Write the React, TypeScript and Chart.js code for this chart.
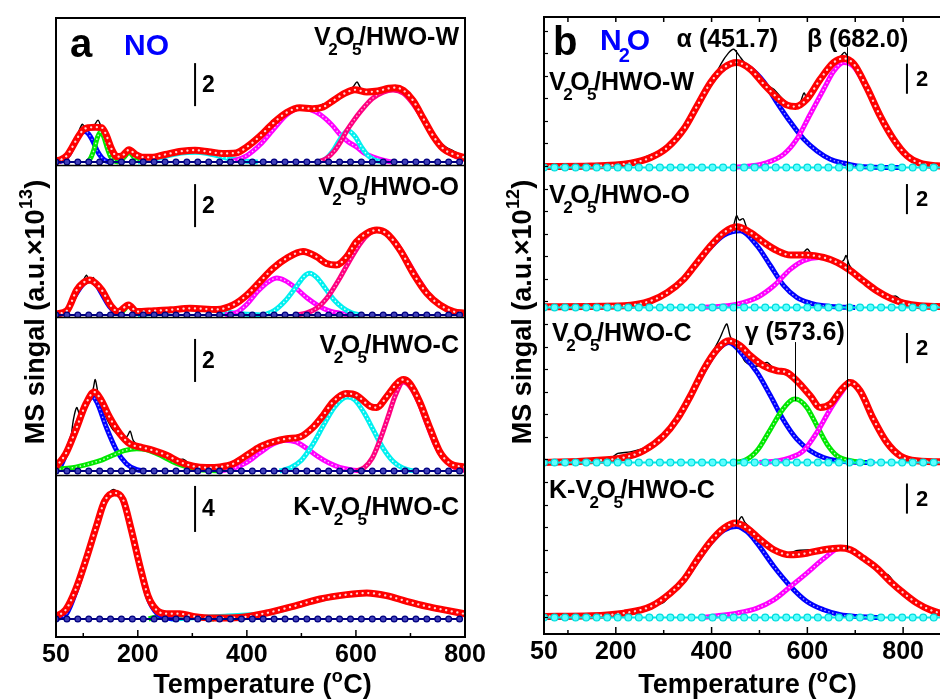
import React, { useEffect, useRef } from 'react';
import { Chart, registerables } from 'chart.js';
Chart.register(...registerables);

type P = [number, number];
const FONT = "Arial, 'Liberation Sans', Helvetica, sans-serif";

// ---------------- Panel a : NO (a.u. x 1e13) ----------------
const NO_W_RAW: P[] = [[50,0.08],[60,0.1],[70,0.3],[80,0.75],[90,1.3],[98,1.75],[104,1.6],[112,1.5],[120,1.7],[127,1.95],[132,1.7],[140,1.3],[148,0.8],[156,0.5],[164,0.35],[172,0.3],[184,0.55],[196,0.3],[210,0.2],[230,0.25],[260,0.4],[290,0.5],[320,0.5],[350,0.4],[380,0.4],[400,0.7],[425,1.2],[450,1.85],[475,2.35],[500,2.5],[525,2.5],[540,2.7],[548,2.6],[560,2.85],[580,3.2],[595,3.5],[602,3.72],[610,3.4],[625,3.3],[645,3.35],[662,3.52],[675,3.45],[690,3.3],[705,2.85],[725,2.0],[745,1.15],[765,0.7],[780,0.5],[795,0.3],[800,0.25]];
const NO_W_FIT: P[] = [[50,0.05],[60,0.12],[70,0.3],[80,0.7],[90,1.15],[100,1.5],[110,1.6],[122,1.62],[134,1.6],[143,1.2],[152,0.6],[162,0.25],[172,0.3],[184,0.57],[196,0.35],[210,0.22],[225,0.22],[250,0.35],[280,0.5],[305,0.55],[330,0.48],[355,0.4],[380,0.42],[400,0.7],[424,1.2],[448,1.8],[473,2.3],[497,2.52],[520,2.48],[540,2.56],[558,2.85],[580,3.2],[598,3.36],[620,3.26],[640,3.3],[660,3.43],[672,3.46],[687,3.33],[705,2.85],[724,2.0],[742,1.2],[760,0.62],[779,0.36],[800,0.2]];
const NO_W_BLUE: P[] = [[55,0],[65,0.1],[75,0.4],[85,0.95],[95,1.35],[103,1.42],[110,1.3],[118,0.95],[126,0.5],[134,0.2],[142,0.05],[150,0]];
const NO_W_GREEN: P[] = [[108,0],[114,0.2],[120,0.6],[126,1.15],[132,1.4],[138,1.15],[144,0.65],[150,0.25],[157,0.05],[165,0]];
const NO_W_SMALL: P[] = [[168,0],[176,0.25],[184,0.45],[192,0.25],[200,0]];
const NO_W_BROAD: P[] = [[200,0],[240,0.2],[280,0.42],[305,0.45],[330,0.38],[370,0.15],[400,0.03],[420,0]];
const NO_W_MAGENTA: P[] = [[370,0],[400,0.3],[424,0.8],[448,1.5],[473,2.2],[497,2.5],[515,2.45],[535,2.2],[555,1.75],[570,1.3],[585,0.95],[601,0.7],[616,0.4],[632,0.23],[650,0.08],[665,0]];
const NO_W_CYAN: P[] = [[530,0],[545,0.15],[560,0.6],[572,1.1],[585,1.47],[598,1.2],[610,0.7],[622,0.3],[635,0.08],[650,0]];
const NO_W_PINK: P[] = [[530,0],[545,0.15],[560,0.5],[572,0.95],[583,1.45],[595,1.9],[610,2.4],[630,2.95],[650,3.25],[668,3.35],[687,3.2],[705,2.7],[724,1.95],[742,1.2],[760,0.62],[779,0.3],[800,0.12]];

const NO_O_RAW: P[] = [[50,0.05],[70,0.15],[88,1.1],[100,1.6],[106,1.85],[112,1.5],[118,1.75],[124,1.5],[134,1.1],[152,0.4],[164,0.15],[183,0.5],[198,0.15],[230,0.2],[260,0.25],[296,0.32],[345,0.3],[375,0.45],[400,0.95],[424,1.6],[448,2.2],[473,2.6],[503,2.95],[528,2.75],[546,2.45],[560,2.3],[575,2.45],[590,2.95],[610,3.6],[625,4.0],[640,4.0],[656,3.82],[681,3.0],[705,1.95],[730,1.0],[754,0.5],[779,0.2],[800,0.1]];
const NO_O_FIT: P[] = [[50,0.05],[70,0.2],[88,1.16],[100,1.5],[112,1.63],[124,1.45],[134,1.16],[152,0.39],[164,0.16],[183,0.47],[198,0.16],[230,0.2],[260,0.24],[296,0.31],[345,0.26],[375,0.47],[400,0.93],[424,1.55],[448,2.17],[473,2.64],[503,2.95],[528,2.71],[546,2.4],[564,2.33],[583,2.71],[601,3.41],[620,3.8],[638,3.95],[656,3.8],[681,3.02],[705,1.94],[730,1.01],[754,0.47],[779,0.16],[800,0.08]];
const NO_O_BLUE: P[] = [[55,0],[70,0.2],[85,0.9],[100,1.45],[112,1.6],[124,1.4],[136,0.9],[148,0.4],[160,0.1],[175,0]];
const NO_O_SMALL: P[] = [[165,0],[175,0.25],[183,0.45],[192,0.25],[200,0]];
const NO_O_BROAD: P[] = [[200,0],[250,0.15],[290,0.3],[320,0.28],[360,0.15],[400,0.04],[430,0]];
const NO_O_MAGENTA: P[] = [[360,0],[380,0.1],[400,0.5],[420,1.1],[440,1.55],[455,1.72],[470,1.6],[490,1.25],[510,0.8],[530,0.45],[550,0.2],[575,0.06],[600,0]];
const NO_O_CYAN: P[] = [[430,0],[450,0.2],[470,0.65],[490,1.3],[505,1.8],[515,1.94],[528,1.75],[545,1.2],[560,0.7],[575,0.35],[592,0.1],[610,0]];
const NO_O_PINK: P[] = [[490,0],[510,0.1],[530,0.35],[550,0.9],[570,1.7],[590,2.6],[610,3.4],[625,3.8],[638,3.95],[655,3.82],[675,3.3],[695,2.5],[715,1.65],[735,0.9],[755,0.45],[780,0.15],[800,0.06]];

const NO_C_RAW: P[] = [[50,0.2],[62,0.3],[75,1.2],[82,2.4],[88,2.95],[94,2.6],[100,2.8],[110,3.3],[118,3.8],[122,4.25],[128,3.5],[140,2.6],[155,1.9],[170,1.6],[180,1.6],[186,1.85],[192,1.4],[205,1.1],[225,0.9],[240,0.8],[255,0.75],[270,0.5],[283,0.55],[300,0.25],[330,0.15],[360,0.2],[380,0.35],[400,0.7],[425,1.1],[450,1.35],[475,1.5],[500,1.6],[522,2.05],[540,2.6],[560,3.25],[583,3.62],[601,3.5],[626,3.0],[640,2.95],[656,3.45],[675,4.05],[687,4.3],[700,4.05],[717,3.2],[736,1.95],[754,0.9],[773,0.4],[790,0.3],[800,0.28]];
const NO_C_FIT: P[] = [[50,0.19],[68,0.81],[86,1.89],[105,3.13],[120,3.67],[133,3.29],[148,2.51],[167,1.74],[185,1.27],[204,1.12],[228,0.96],[253,0.73],[277,0.42],[302,0.22],[326,0.16],[351,0.19],[375,0.34],[400,0.73],[424,1.12],[448,1.35],[473,1.5],[497,1.58],[522,2.05],[540,2.59],[558,3.21],[583,3.6],[601,3.52],[626,3.01],[638,2.95],[656,3.44],[675,4.06],[687,4.25],[699,4.06],[717,3.21],[736,1.97],[754,0.88],[773,0.34],[797,0.19]];
const NO_C_BLUE: P[] = [[50,0],[60,0.3],[80,1.6],[99,2.8],[110,3.3],[117,3.44],[125,3.2],[142,2.05],[161,0.96],[179,0.34],[198,0.06],[215,0]];
const NO_C_GREEN: P[] = [[50,0.08],[80,0.15],[112,0.34],[135,0.52],[154,0.73],[175,0.95],[198,1.04],[215,1.0],[234,0.81],[250,0.62],[265,0.42],[280,0.27],[296,0.14],[326,0.03],[350,0]];
const NO_C_MAGENTA: P[] = [[350,0],[375,0.12],[400,0.4],[424,0.85],[448,1.25],[470,1.43],[490,1.35],[510,1.05],[530,0.68],[550,0.38],[570,0.17],[590,0.06],[610,0]];
const NO_C_CYAN: P[] = [[460,0],[480,0.15],[500,0.5],[520,1.2],[540,2.1],[560,2.95],[575,3.35],[585,3.44],[598,3.3],[615,2.7],[632,1.9],[650,1.05],[668,0.45],[685,0.15],[700,0.03],[715,0]];
const NO_C_PINK: P[] = [[600,0],[615,0.15],[630,0.6],[645,1.5],[660,2.6],[672,3.5],[687,4.14],[700,3.9],[715,3.2],[730,2.2],[745,1.25],[760,0.6],[775,0.25],[790,0.08],[800,0.03]];

const NO_K_RAW: P[] = [[50,0.2],[68,0.7],[86,2.7],[105,5.3],[124,8.2],[139,10.3],[150,11.1],[157,11.25],[165,10.9],[173,10.4],[188,7.7],[204,4.6],[219,2.0],[235,0.8],[253,0.5],[277,0.45],[302,0.25],[338,0.1],[387,0.15],[436,0.5],[485,1.1],[534,1.75],[583,2.1],[620,2.25],[650,2.1],[665,1.85],[675,1.95],[693,1.55],[730,1.1],[748,0.95],[757,0.75],[767,0.8],[797,0.45]];
const NO_K_FIT: P[] = [[50,0.23],[68,0.81],[86,2.55],[105,5.16],[124,8.06],[139,10.23],[157,10.96],[173,10.38],[188,7.77],[204,4.58],[219,1.97],[235,0.75],[253,0.46],[277,0.46],[302,0.23],[338,0.09],[387,0.14],[436,0.52],[485,1.1],[534,1.74],[583,2.12],[620,2.26],[656,2.03],[693,1.54],[730,1.1],[767,0.75],[800,0.44]];
const NO_K_BLUE: P[] = [[50,0],[70,0.5],[86,2.3],[105,5.1],[124,8.1],[139,10.2],[155,11.0],[172,10.4],[188,7.7],[204,4.5],[219,1.8],[235,0.5],[255,0.08],[270,0]];
const NO_K_GREEN: P[] = [[220,0],[240,0.25],[260,0.42],[280,0.44],[300,0.25],[320,0.08],[340,0]];
const NO_K_CYAN: P[] = [[260,0],[300,0.1],[360,0.25],[436,0.5],[485,1.05],[534,1.7],[583,2.1],[620,2.24],[656,2.0],[693,1.5],[730,1.05],[767,0.7],[800,0.42]];

// ---------------- Panel b : N2O (a.u. x 1e12) ----------------
const N2O_W_RAW: P[] = [[50,0.05],[150,0.12],[231,0.35],[273,0.85],[308,1.3],[342,2.5],[370,4.0],[398,5.5],[420,6.9],[435,7.6],[446,7.86],[456,7.5],[470,6.9],[490,6.2],[510,5.6],[530,5.2],[550,4.5],[575,4.05],[585,4.3],[593,4.95],[600,4.6],[627,5.9],[655,6.95],[670,7.4],[678,7.65],[690,7.0],[700,6.8],[724,5.3],[752,3.45],[780,1.9],[808,0.85],[835,0.3],[870,0.12],[900,0.05]];
const N2O_W_FIT: P[] = [[50,0.07],[148,0.1],[231,0.29],[273,0.66],[308,1.33],[342,2.55],[370,4.1],[398,5.65],[426,6.64],[453,6.98],[481,6.53],[509,5.54],[537,4.65],[558,4.14],[575,4.05],[599,4.54],[627,5.87],[655,6.98],[676,7.24],[697,6.87],[724,5.32],[752,3.43],[780,1.88],[808,0.78],[835,0.29],[870,0.11],[900,0.05]];
const N2O_W_BLUE: P[] = [[50,0],[150,0.08],[231,0.29],[273,0.66],[308,1.33],[342,2.55],[370,4.1],[398,5.6],[426,6.6],[455,6.98],[481,6.6],[509,5.7],[537,4.3],[565,3.0],[592,1.9],[620,1.1],[648,0.55],[676,0.29],[703,0.1],[740,0.02],[800,0]];
const N2O_W_MAGENTA: P[] = [[440,0],[481,0.1],[516,0.33],[551,0.89],[578,1.88],[606,3.54],[634,5.2],[655,6.4],[676,6.98],[697,6.7],[724,5.25],[752,3.4],[780,1.85],[808,0.75],[835,0.27],[870,0.08],[900,0.02]];

const N2O_O_RAW: P[] = [[50,0.05],[217,0.12],[273,0.5],[308,0.9],[342,1.8],[370,2.95],[398,4.1],[426,4.95],[445,5.4],[452,6.1],[458,5.8],[466,5.9],[475,5.2],[495,4.7],[523,4.0],[545,3.7],[565,3.5],[590,3.6],[600,3.88],[610,3.5],[634,3.35],[660,3.0],[675,3.1],[681,3.45],[688,2.8],[717,1.75],[745,1.1],[773,0.7],[785,0.75],[801,0.35],[835,0.12],[900,0.05]];
const N2O_O_FIT: P[] = [[50,0.05],[217,0.11],[273,0.44],[308,1.0],[342,1.88],[370,2.99],[398,4.1],[426,4.98],[453,5.36],[481,4.98],[509,4.32],[537,3.77],[565,3.48],[599,3.48],[634,3.32],[662,2.99],[690,2.44],[717,1.77],[745,1.11],[773,0.62],[801,0.29],[835,0.11],[900,0.05]];
const N2O_O_BLUE: P[] = [[50,0],[217,0.1],[273,0.44],[308,1.0],[342,1.88],[370,2.95],[398,4.0],[426,4.8],[460,5.09],[495,4.1],[523,2.77],[551,1.44],[578,0.66],[606,0.29],[634,0.11],[670,0.02],[700,0]];
const N2O_O_MAGENTA: P[] = [[380,0],[420,0.08],[453,0.22],[495,0.66],[530,1.44],[565,2.55],[592,3.1],[624,3.32],[650,3.15],[662,2.99],[690,2.42],[717,1.77],[745,1.1],[773,0.62],[801,0.29],[835,0.11],[870,0.04],[900,0.01]];

const N2O_C_RAW: P[] = [[50,0.02],[148,0.15],[190,0.3],[204,0.6],[230,0.7],[258,0.95],[286,1.5],[300,1.8],[328,2.8],[356,4.3],[384,6.1],[405,7.5],[418,8.3],[426,8.9],[432,9.2],[440,8.3],[455,7.7],[470,6.7],[490,6.4],[505,6.5],[516,6.65],[530,6.25],[550,6.05],[565,5.9],[578,5.45],[606,4.4],[627,3.7],[648,3.9],[669,4.8],[686,5.5],[700,5.2],[710,4.8],[738,2.9],[766,1.3],[794,0.5],[828,0.15],[900,0.03]];
const N2O_C_FIT: P[] = [[50,0],[148,0.11],[217,0.33],[258,0.78],[300,1.77],[328,2.88],[356,4.43],[384,6.2],[412,7.53],[436,8.08],[460,7.75],[481,7.09],[509,6.42],[537,6.09],[557,5.98],[578,5.43],[606,4.43],[627,3.65],[648,3.88],[669,4.76],[690,5.32],[710,4.76],[738,2.88],[766,1.33],[794,0.44],[828,0.11],[900,0.03]];
const N2O_C_BLUE: P[] = [[50,0],[148,0.1],[217,0.3],[258,0.75],[300,1.75],[328,2.85],[356,4.4],[384,6.1],[412,7.45],[436,7.97],[467,7.09],[495,5.98],[523,4.43],[551,2.77],[578,1.55],[606,0.78],[634,0.33],[662,0.11],[700,0.02],[740,0]];
const N2O_C_GREEN: P[] = [[440,0],[467,0.11],[495,0.78],[523,2.21],[544,3.32],[565,4.1],[574,4.21],[585,4.1],[599,3.65],[620,2.44],[641,1.22],[662,0.44],[690,0.11],[720,0]];
const N2O_C_MAGENTA: P[] = [[500,0],[537,0.1],[565,0.33],[592,0.78],[620,2.0],[648,3.54],[669,4.54],[690,5.32],[710,4.76],[738,2.88],[766,1.33],[794,0.44],[828,0.11],[860,0.03],[900,0]];

const N2O_K_RAW: P[] = [[50,0.05],[148,0.12],[180,0.2],[217,0.4],[240,0.45],[273,0.75],[300,1.0],[314,1.55],[342,2.5],[370,3.8],[398,5.05],[426,5.9],[450,6.1],[458,6.5],[463,6.7],[470,6.3],[490,5.7],[510,5.0],[530,4.5],[560,4.3],[580,4.45],[610,4.5],[634,4.5],[669,4.61],[690,4.5],[717,3.95],[745,3.3],[760,2.9],[768,2.85],[785,2.2],[801,1.65],[829,0.95],[856,0.5],[900,0.2]];
const N2O_K_FIT: P[] = [[50,0.07],[148,0.11],[217,0.29],[273,0.73],[314,1.62],[342,2.5],[370,3.83],[398,5.05],[426,5.94],[450,6.27],[474,5.94],[502,5.16],[530,4.5],[565,4.16],[599,4.27],[634,4.5],[669,4.61],[690,4.5],[717,3.94],[745,3.28],[773,2.39],[801,1.62],[829,0.95],[856,0.51],[877,0.29],[900,0.2]];
const N2O_K_BLUE: P[] = [[50,0],[148,0.1],[217,0.28],[273,0.7],[314,1.6],[342,2.45],[370,3.75],[398,4.95],[426,5.8],[453,6.05],[474,5.7],[495,4.94],[530,3.39],[565,2.06],[599,1.06],[634,0.51],[669,0.18],[703,0.07],[750,0]];
const N2O_K_MAGENTA: P[] = [[380,0],[412,0.11],[453,0.29],[495,0.62],[530,1.17],[565,2.06],[599,2.95],[634,3.9],[669,4.61],[690,4.45],[717,3.94],[745,3.28],[773,2.39],[801,1.62],[829,0.95],[856,0.51],[877,0.29],[900,0.18]];

// baselines (fit baseline markers), temperatures of the markers
const BASE_T_A = [50,70,90,110,130,150,170,190,210,230,250,270,290,310,330,350,370,390,410,430,450,470,490,510,530,550,570,590,610,630,650,670,690,710,730,750,770,790];
const BASE_T_B = [50,72,94,116,138,160,182,204,226,248,270,292,314,336,358,380,402,424,446,468,490,512,534,556,578,600,622,644,666,688,710,732,754,776,798,820,842,864,886];

// axis ticks
const X_TICKS_A = [50,100,200,300,400,500,600,700,800];
const X_LABELS_A = [50,200,400,600,800];
const X_TICKS_B = [50,100,200,300,400,500,600,700,800];
const X_LABELS_B = [50,200,400,600,800];
const TOP_TICKS_B = [100,200,300,400,500,600,700,800];

// peak positions (panel b)
const PEAK_ALPHA = 451.7;
const PEAK_BETA = 682.0;
const PEAK_GAMMA = 573.6;

// ---------------- styles ----------------
type Style = { color: string; dot: string; width: number };
const ST: Record<string, Style> = {
  fit: { color: '#FF0000', dot: '#FFD6D6', width: 7 },
  blue: { color: '#0000FF', dot: '#9A9AFF', width: 5 },
  green: { color: '#00E800', dot: '#C0FFC0', width: 5 },
  magenta: { color: '#FF00FF', dot: '#FFC0FF', width: 5 },
  cyan: { color: '#00F0F0', dot: '#E6FFFF', width: 5 },
  pink: { color: '#FF0080', dot: '#FFA8D4', width: 5 },
};

function curve(pts: P[], st: Style, axis: string, off = 0): any[] {
  const data = pts.map(([x, y]) => ({ x, y: y + off }));
  const base = { yAxisID: axis, cubicInterpolationMode: 'monotone', tension: 0.4, pointRadius: 0, fill: false };
  return [
    { ...base, data, borderColor: st.color, borderWidth: st.width },
    { ...base, data, borderColor: st.dot, borderWidth: Math.max(1.6, st.width * 0.32), borderDash: [0.1, st.width * 0.8], borderCapStyle: 'round' },
  ];
}
function rawLine(pts: P[], axis: string, off = 0): any {
  return { yAxisID: axis, data: pts.map(([x, y]) => ({ x, y: y + off })), borderColor: '#000', borderWidth: 1.4, tension: 0.3, pointRadius: 0, fill: false };
}
function baseLine(ts: number[], axis: string, off: number, line: string, edge: string, fillc: string, r: number): any {
  return { yAxisID: axis, data: ts.map((x) => ({ x, y: off })), borderColor: line, borderWidth: 2, pointRadius: r, pointBorderWidth: 1.2, pointBorderColor: edge, pointBackgroundColor: fillc, fill: false };
}
function withOrder(list: any[]) {
  const n = list.length;
  return list.map((d, i) => ({ ...d, order: n - i }));
}

// ---------------- rich text ----------------
type Seg = [string, number?];
function richWidth(ctx: CanvasRenderingContext2D, segs: Seg[], size: number) {
  let w = 0;
  for (const [t, k = 0] of segs) {
    if (k === 0) { ctx.font = `bold ${size}px ${FONT}`; w += ctx.measureText(t).width; }
    else {
      ctx.font = `bold ${Math.round(size * 0.66)}px ${FONT}`;
      w += ctx.measureText(t).width + (k === 1 ? -0.2 * size : 0.03 * size);
    }
  }
  return w;
}
function drawRich(ctx: CanvasRenderingContext2D, segs: Seg[], x: number, y: number, size: number, align: string, color: string) {
  const w = richWidth(ctx, segs, size);
  let cx = align === 'left' ? x : align === 'right' ? x - w : x - w / 2;
  ctx.fillStyle = color;
  ctx.textAlign = 'left';
  ctx.textBaseline = 'alphabetic';
  for (const [t, k = 0] of segs) {
    if (k === 0) {
      ctx.font = `bold ${size}px ${FONT}`;
      ctx.fillText(t, cx, y);
      cx += ctx.measureText(t).width;
    } else if (k === 1) {
      ctx.font = `bold ${Math.round(size * 0.66)}px ${FONT}`;
      cx -= 0.1 * size;
      ctx.fillText(t, cx, y + 0.4 * size);
      cx += ctx.measureText(t).width - 0.1 * size;
    } else {
      ctx.font = `bold ${Math.round(size * 0.66)}px ${FONT}`;
      cx += 0.015 * size;
      ctx.fillText(t, cx, y - 0.42 * size);
      cx += ctx.measureText(t).width + 0.015 * size;
    }
  }
}
function vline(ctx: CanvasRenderingContext2D, x: number, y0: number, y1: number) {
  ctx.beginPath(); ctx.moveTo(x, y0); ctx.lineTo(x, y1); ctx.stroke();
}
function hline(ctx: CanvasRenderingContext2D, x0: number, x1: number, y: number) {
  ctx.beginPath(); ctx.moveTo(x0, y); ctx.lineTo(x1, y); ctx.stroke();
}

const X_TITLE: Seg[] = [['Temperature ('], ['o', 2], ['C)']];
const Y_TITLE_A: Seg[] = [['MS singal (a.u.\u00d710'], ['13', 2], [')']];
const Y_TITLE_B: Seg[] = [['MS singal (a.u.\u00d710'], ['12', 2], [')']];
const LBL_W: Seg[] = [['V'], ['2', 1], ['O'], ['5', 1], ['/HWO-W']];
const LBL_O: Seg[] = [['V'], ['2', 1], ['O'], ['5', 1], ['/HWO-O']];
const LBL_C: Seg[] = [['V'], ['2', 1], ['O'], ['5', 1], ['/HWO-C']];
const LBL_K: Seg[] = [['K-V'], ['2', 1], ['O'], ['5', 1], ['/HWO-C']];

// ---------------- panel a ----------------
const A_PANELS = [
  { axis: 'yW', raw: NO_W_RAW, fit: NO_W_FIT, comps: [[NO_W_BROAD, 'cyan'], [NO_W_BLUE, 'blue'], [NO_W_GREEN, 'green'], [NO_W_SMALL, 'green'], [NO_W_MAGENTA, 'magenta'], [NO_W_CYAN, 'cyan'], [NO_W_PINK, 'pink']] },
  { axis: 'yO', raw: NO_O_RAW, fit: NO_O_FIT, comps: [[NO_O_BROAD, 'cyan'], [NO_O_BLUE, 'blue'], [NO_O_SMALL, 'green'], [NO_O_MAGENTA, 'magenta'], [NO_O_CYAN, 'cyan'], [NO_O_PINK, 'pink']] },
  { axis: 'yC', raw: NO_C_RAW, fit: NO_C_FIT, comps: [[NO_C_BLUE, 'blue'], [NO_C_GREEN, 'green'], [NO_C_MAGENTA, 'magenta'], [NO_C_CYAN, 'cyan'], [NO_C_PINK, 'pink']] },
  { axis: 'yK', raw: NO_K_RAW, fit: NO_K_FIT, comps: [[NO_K_GREEN, 'green'], [NO_K_CYAN, 'cyan'], [NO_K_BLUE, 'blue']] },
];

const A_BARS = [
  { axis: 'yW', t: 305, y0: 2.6, len: 2, label: '2' },
  { axis: 'yO', t: 305, y0: 4.09, len: 2, label: '2' },
  { axis: 'yC', t: 305, y0: 4.14, len: 2, label: '2' },
  { axis: 'yK', t: 305, y0: 7.57, len: 4, label: '4' },
];

const panelAPlugin = {
  id: 'panelA',
  afterDraw(chart: any) {
    const { ctx, chartArea: ca, scales } = chart;
    ctx.save();
    ctx.strokeStyle = '#000';
    ctx.lineWidth = 1.5;
    for (const id of ['yO', 'yC', 'yK']) hline(ctx, ca.left, ca.right, Math.round(scales[id].top) + 0.5);
    ctx.lineWidth = 2;
    ctx.strokeRect(ca.left, ca.top, ca.right - ca.left, ca.bottom - ca.top);
    ctx.lineWidth = 1.5;
    for (const v of X_TICKS_A) {
      if (v === 50) continue;
      const x = scales.x.getPixelForValue(v);
      vline(ctx, x, ca.bottom, ca.bottom - (X_LABELS_A.includes(v) ? 7 : 4));
    }
    // scale bars
    ctx.lineWidth = 2;
    for (const b of A_BARS) {
      const s = scales[b.axis];
      const x = scales.x.getPixelForValue(b.t);
      const y0 = s.getPixelForValue(b.y0), y1 = s.getPixelForValue(b.y0 + b.len);
      vline(ctx, x, y0, y1);
      ctx.font = `bold 23px ${FONT}`; ctx.fillStyle = '#000'; ctx.textBaseline = 'middle'; ctx.textAlign = 'left';
      ctx.fillText(b.label, x + 7, (y0 + y1) / 2 + 1);
    }
    // labels
    drawRich(ctx, LBL_W, 459, 45, 25, 'right', '#000');
    drawRich(ctx, LBL_O, 459, 195, 25, 'right', '#000');
    drawRich(ctx, LBL_C, 459, 353, 25, 'right', '#000');
    drawRich(ctx, LBL_K, 459, 515, 25, 'right', '#000');
    drawRich(ctx, [['a']], 70, 57, 40, 'left', '#000');
    drawRich(ctx, [['NO']], 124, 55, 30, 'left', '#0000FF');
    // titles
    drawRich(ctx, X_TITLE, (ca.left + ca.right) / 2 + 2, 693, 27, 'center', '#000');
    ctx.save();
    ctx.translate(34, 312);
    ctx.rotate(-Math.PI / 2);
    drawRich(ctx, Y_TITLE_A, 0, 0.36 * 27, 27, 'center', '#000');
    ctx.restore();
    ctx.restore();
  },
};

function buildA(): any {
  const list: any[] = [];
  for (const p of A_PANELS) {
    list.push(rawLine(p.raw, p.axis));
    for (const [pts, st] of p.comps as any[]) list.push(...curve(pts, ST[st], p.axis));
    list.push(...curve(p.fit, ST.fit, p.axis));
    list.push(baseLine(BASE_T_A, p.axis, 0, '#000080', '#000080', '#4040B8', 2.9));
  }
  const yAxis = (min: number, max: number, w: number, weight: number) => ({
    type: 'linear', position: 'left', stack: 'a', stackWeight: w, weight, min, max,
    ticks: { display: false }, grid: { display: false, drawTicks: false }, border: { display: false },
    afterFit: (s: any) => { s.width = 0; },
  });
  return {
    type: 'line',
    data: { datasets: withOrder(list) },
    options: {
      responsive: false, animation: false, events: [],
      layout: { padding: { left: 56, top: 18, right: 25, bottom: 0 } },
      plugins: { legend: { display: false }, tooltip: { enabled: false }, title: { display: false } },
      scales: {
        x: {
          type: 'linear', position: 'bottom', min: 50, max: 800,
          afterBuildTicks: (s: any) => { s.ticks = X_TICKS_A.map((v) => ({ value: v })); },
          ticks: { autoSkip: false, maxRotation: 0, padding: 3, color: '#000', font: { family: FONT, size: 25, weight: 'bold' },
            callback: (v: any) => (X_LABELS_A.includes(v) ? String(v) : '') },
          grid: { display: false, drawTicks: false }, border: { display: false },
          afterFit: (s: any) => { s.height = 63; },
        },
        yW: yAxis(-0.14, 6.7, 147, 4),
        yO: yAxis(-0.093, 6.98, 152, 3),
        yC: yAxis(-0.186, 7.16, 158, 2),
        yK: yAxis(-1.565, 12.52, 162, 1),
      },
    },
    plugins: [panelAPlugin],
  };
}

// ---------------- panel b ----------------
const B_PANELS = [
  { off: 29.9, raw: N2O_W_RAW, fit: N2O_W_FIT, comps: [[N2O_W_BLUE, 'blue'], [N2O_W_MAGENTA, 'magenta']] },
  { off: 20.6, raw: N2O_O_RAW, fit: N2O_O_FIT, comps: [[N2O_O_BLUE, 'blue'], [N2O_O_MAGENTA, 'magenta']] },
  { off: 10.3, raw: N2O_C_RAW, fit: N2O_C_FIT, comps: [[N2O_C_BLUE, 'blue'], [N2O_C_GREEN, 'green'], [N2O_C_MAGENTA, 'magenta']] },
  { off: 0, raw: N2O_K_RAW, fit: N2O_K_FIT, comps: [[N2O_K_BLUE, 'blue'], [N2O_K_MAGENTA, 'magenta']] },
];
const B_BARS = [34.8, 26.8, 16.9, 6.9];
const B_LINES = [
  { t: PEAK_ALPHA, from: 37.7, to: 6.2 },
  { t: PEAK_BETA, from: 37.9, to: 4.5 },
  { t: PEAK_GAMMA, from: 18.3, to: 14.4 },
];

const panelBPlugin = {
  id: 'panelB',
  afterDraw(chart: any) {
    const { ctx, chartArea: ca, scales } = chart;
    const X = scales.x, Y = scales.y;
    ctx.save();
    ctx.strokeStyle = '#000';
    ctx.lineWidth = 2;
    ctx.strokeRect(ca.left, ca.top, ca.right - ca.left, ca.bottom - ca.top);
    ctx.lineWidth = 1.5;
    for (const v of X_TICKS_B) {
      if (v === 50) continue;
      const x = X.getPixelForValue(v);
      vline(ctx, x, ca.bottom, ca.bottom - (X_LABELS_B.includes(v) ? 7 : 4));
    }
    for (const v of TOP_TICKS_B) {
      const x = X.getPixelForValue(v);
      vline(ctx, x, ca.top, ca.top + 5);
    }
    ctx.lineWidth = 1.2;
    for (const t of Y.ticks) {
      const y = Y.getPixelForValue(t.value);
      if (y > ca.bottom - 4 || y < ca.top + 4) continue;
      hline(ctx, ca.left, ca.left + 4, Math.round(y) + 0.5);
    }
    // peak lines
    ctx.lineWidth = 1;
    for (const l of B_LINES) {
      const x = Math.round(X.getPixelForValue(l.t)) + 0.5;
      vline(ctx, x, Y.getPixelForValue(l.from), Y.getPixelForValue(l.to));
    }
    // scale bars
    ctx.lineWidth = 2;
    for (const y0 of B_BARS) {
      const x = X.getPixelForValue(808);
      const a = Y.getPixelForValue(y0), b = Y.getPixelForValue(y0 + 2);
      vline(ctx, x, a, b);
      ctx.font = `bold 22px ${FONT}`; ctx.fillStyle = '#000'; ctx.textBaseline = 'middle'; ctx.textAlign = 'left';
      ctx.fillText('2', x + 9, (a + b) / 2 + 1);
    }
    const L = ca.left; // page x 544
    drawRich(ctx, LBL_W, L + 5, 90, 25, 'left', '#000');
    drawRich(ctx, LBL_O, L + 5, 203, 25, 'left', '#000');
    drawRich(ctx, LBL_C, L + 8, 341, 25, 'left', '#000');
    drawRich(ctx, LBL_K, L + 5, 498, 25, 'left', '#000');
    drawRich(ctx, [['\u03b1 (451.7)']], X.getPixelForValue(PEAK_ALPHA) - 9, 47, 25, 'center', '#000');
    drawRich(ctx, [['\u03b2 (682.0)']], X.getPixelForValue(PEAK_BETA) + 11, 47, 25, 'center', '#000');
    drawRich(ctx, [['\u03b3 (573.6)']], X.getPixelForValue(PEAK_GAMMA), 340, 25, 'center', '#000');
    drawRich(ctx, [['b']], L + 9, 55, 40, 'left', '#000');
    drawRich(ctx, [['N'], ['2', 1], ['O']], L + 56, 50, 30, 'left', '#0000FF');
    drawRich(ctx, X_TITLE, (ca.left + ca.right) / 2, 693, 27, 'center', '#000');
    ctx.save();
    ctx.translate(L - 23, 312);
    ctx.rotate(-Math.PI / 2);
    drawRich(ctx, Y_TITLE_B, 0, 0.36 * 27, 27, 'center', '#000');
    ctx.restore();
    ctx.restore();
  },
};

function buildB(): any {
  const list: any[] = [];
  for (const p of B_PANELS) {
    list.push(rawLine(p.raw, 'y', p.off));
    for (const [pts, st] of p.comps as any[]) list.push(...curve(pts, ST[st], 'y', p.off));
    list.push(...curve(p.fit, ST.fit, 'y', p.off));
    list.push(baseLine(BASE_T_B, 'y', p.off, '#00E8E8', '#00DCDC', '#5CFFFF', 3.4));
  }
  return {
    type: 'line',
    data: { datasets: withOrder(list) },
    options: {
      responsive: false, animation: false, events: [],
      layout: { padding: { left: 54, top: 17, right: 9, bottom: 0 } },
      plugins: { legend: { display: false }, tooltip: { enabled: false }, title: { display: false } },
      scales: {
        x: {
          type: 'linear', position: 'bottom', min: 50, max: 900,
          afterBuildTicks: (s: any) => { s.ticks = X_TICKS_B.map((v) => ({ value: v })); },
          ticks: { autoSkip: false, maxRotation: 0, padding: 3, color: '#000', font: { family: FONT, size: 25, weight: 'bold' },
            callback: (v: any) => (X_LABELS_B.includes(v) ? String(v) : '') },
          grid: { display: false, drawTicks: false }, border: { display: false },
          afterFit: (s: any) => { s.height = 66; },
        },
        y: {
          type: 'linear', position: 'left', min: -1.1, max: 39.9,
          ticks: { display: false, stepSize: 1.5, includeBounds: false },
          grid: { display: false, drawTicks: false }, border: { display: false },
          afterFit: (s: any) => { s.width = 0; },
        },
      },
    },
    plugins: [panelBPlugin],
  };
}

export default function App() {
  const aRef = useRef<HTMLCanvasElement>(null);
  const bRef = useRef<HTMLCanvasElement>(null);
  useEffect(() => {
    const ca = new Chart(aRef.current as HTMLCanvasElement, buildA());
    const cb = new Chart(bRef.current as HTMLCanvasElement, buildB());
    return () => { ca.destroy(); cb.destroy(); };
  }, []);
  return (
    <div style={{ position: 'fixed', left: 0, top: 0, width: 940, height: 700, overflow: 'hidden', background: '#fff' }}>
      <canvas ref={aRef} width={490} height={700} style={{ position: 'absolute', left: 0, top: 0, width: 490, height: 700 }} />
      <canvas ref={bRef} width={470} height={700} style={{ position: 'absolute', left: 490, top: 0, width: 470, height: 700 }} />
    </div>
  );
}
